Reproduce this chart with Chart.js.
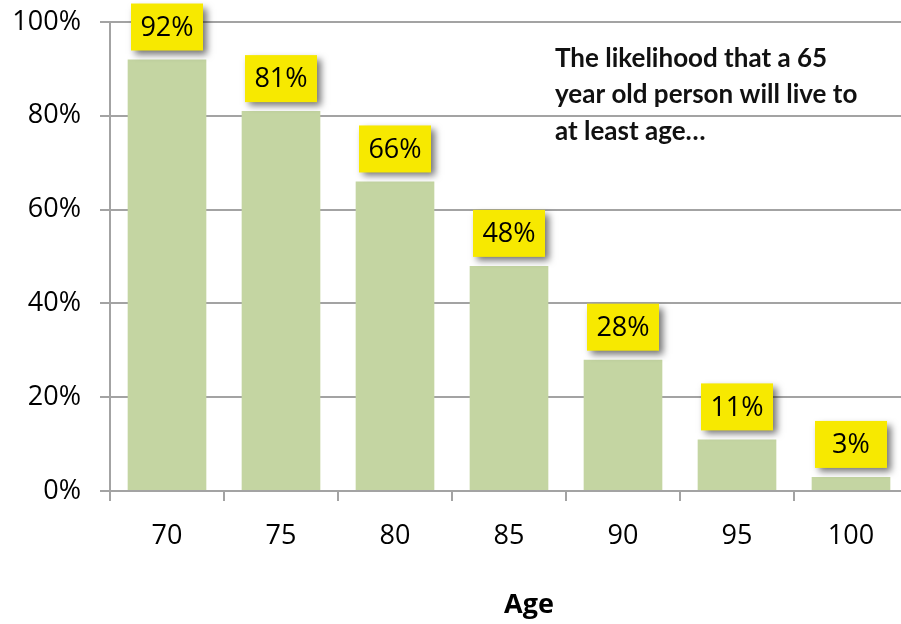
<!DOCTYPE html>
<html>
<head>
<meta charset="utf-8">
<script src="https://cdn.jsdelivr.net/npm/chart.js@4/dist/chart.umd.min.js"></script>
<style>
html,body{margin:0;padding:0;background:#fff;}
#wrap{width:901px;height:624px;overflow:hidden;position:relative;}
canvas{display:block;}
</style>
</head>
<body>
<div id="wrap"><canvas id="c" width="920" height="624"></canvas></div>
<script>
const categories = ['70', '75', '80', '85', '90', '95', '100'];
const likelihood = [92, 81, 66, 48, 28, 11, 3];
const yTicks = [0, 20, 40, 60, 80, 100];
const noteLines = ['The likelihood that a 65', 'year old person will live to', 'at least age…'];
const xTitle = 'Age';

const GRID = '#a3a3a3';

const labelBoxes = {
  id: 'labelBoxes',
  afterDatasetsDraw(chart) {
    const ctx = chart.ctx;
    const meta = chart.getDatasetMeta(0);
    meta.data.forEach((bar, i) => {
      const w = 72, h = 47;
      const x = bar.x - w / 2;
      const y = bar.y - 9 - h;
      ctx.save();
      ctx.shadowColor = 'rgba(0,0,0,0.55)';
      ctx.shadowBlur = 7;
      ctx.shadowOffsetX = 4;
      ctx.shadowOffsetY = 4;
      ctx.fillStyle = '#f7e900';
      ctx.fillRect(x, y, w, h);
      ctx.restore();
      ctx.save();
      ctx.fillStyle = '#000';
      ctx.font = '27px "Open Sans"';
      ctx.textAlign = 'center';
      ctx.textBaseline = 'middle';
      ctx.fillText(likelihood[i] + '%', bar.x, y + h / 2 + 1);
      ctx.restore();
    });
  },
  afterDraw(chart) {
    const ctx = chart.ctx;
    ctx.save();
    ctx.fillStyle = '#111';
    ctx.font = 'bold 26px Lato';
    ctx.textAlign = 'left';
    ctx.textBaseline = 'alphabetic';
    const base = [67, 103, 140];
    noteLines.forEach((t, i) => ctx.fillText(t, 555, base[i]));
    ctx.font = 'bold 27px "Open Sans"';
    ctx.textAlign = 'center';
    ctx.textBaseline = 'middle';
    ctx.fillStyle = '#000';
    ctx.fillText(xTitle, 529, 605);
    ctx.restore();
  }
};

new Chart(document.getElementById('c'), {
  type: 'bar',
  data: {
    labels: categories,
    datasets: [{
      data: likelihood,
      backgroundColor: '#c4d5a2',
      borderWidth: 0,
      categoryPercentage: 1,
      barPercentage: 0.69
    }]
  },
  options: {
    responsive: false,
    animation: false,
    layout: { padding: { top: 22, right: 12, left: 0, bottom: 0 } },
    plugins: { legend: { display: false }, tooltip: { enabled: false } },
    scales: {
      y: {
        min: 0, max: 100,
        afterFit(s) { s.width = 110; s.paddingTop = 0; s.paddingBottom = 0; },
        afterBuildTicks(s) { s.ticks = yTicks.map(v => ({ value: v })); },
        ticks: {
          callback: v => v + '%',
          color: '#000',
          font: { family: 'Open Sans', size: 27 },
          padding: 19
        },
        grid: { color: GRID, lineWidth: 2, tickLength: 10 },
        border: { color: GRID, width: 2 }
      },
      x: {
        afterFit(s) { s.height = 133; s.paddingLeft = 0; s.paddingRight = 0; },
        ticks: {
          color: '#000',
          font: { family: 'Open Sans', size: 27 },
          padding: 19
        },
        grid: { offset: true, drawOnChartArea: false, color: GRID, lineWidth: 2, tickLength: 10 },
        border: { color: GRID, width: 2 }
      }
    }
  },
  plugins: [labelBoxes]
});
</script>
</body>
</html>
